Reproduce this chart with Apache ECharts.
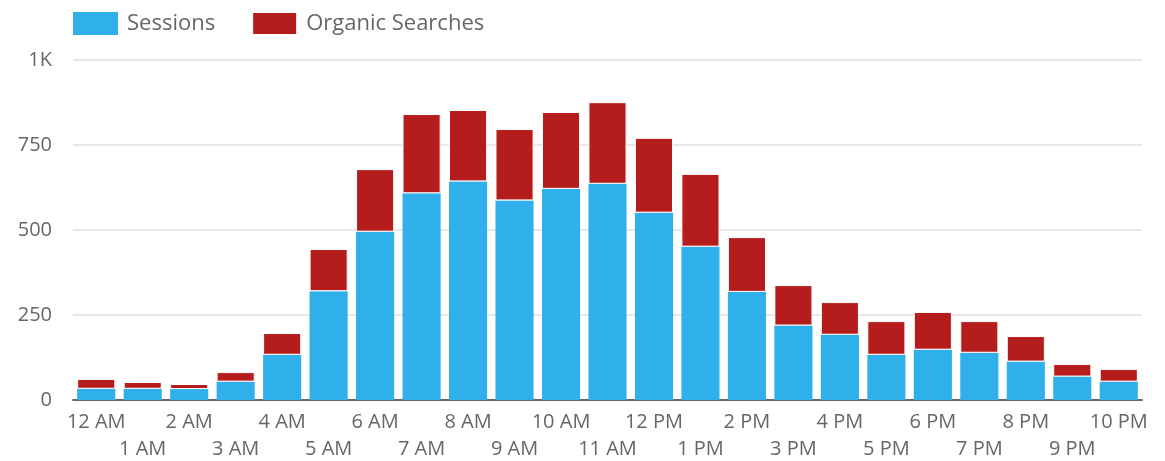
<!DOCTYPE html>
<html>
<head>
<meta charset="utf-8">
<script src="https://cdn.jsdelivr.net/npm/echarts@6/dist/echarts.min.js"></script>
<style>
html,body{margin:0;padding:0;background:#fff;}
#chart{width:1165px;height:461px;}
</style>
</head>
<body>
<div id="chart"></div>
<script>
const categories = ['12 AM','1 AM','2 AM','3 AM','4 AM','5 AM','6 AM','7 AM','8 AM','9 AM','10 AM','11 AM','12 PM','1 PM','2 PM','3 PM','4 PM','5 PM','6 PM','7 PM','8 PM','9 PM','10 PM'];
const sessions = [33,33,32,54,133,320,495,608,643,587,621,636,551,451,318,219,192,133,148,139,113,69,54];
const organicSearches = [29,20,15,28,64,124,184,233,210,210,226,240,220,214,161,119,96,99,111,93,75,37,37];
const yTicks = [0,250,500,750,1000];
const yTickLabels = ['0','250','500','750','1K'];

const chart = echarts.init(document.getElementById('chart'));
const font = 'Open Sans';
chart.setOption({
  animation: false,
  textStyle: {fontFamily: font},
  legend: {
    left: 68, top: 6,
    itemWidth: 45, itemHeight: 23, itemGap: 36,
    icon: 'rect',
    textStyle: {fontSize: 22, color: '#666', fontFamily: font, padding: [0,0,0,4]},
    data: ['Sessions','Organic Searches']
  },
  grid: {left: 73, right: 23, top: 60, bottom: 61, containLabel: false, outerBoundsMode: 'none'},
  xAxis: {
    type: 'category',
    data: categories,
    axisTick: {show: false},
    axisLine: {lineStyle: {color: '#666', width: 2}},
    axisLabel: {
      interval: 0, hideOverlap: false,
      fontSize: 20, color: '#666', fontFamily: font,
      lineHeight: 27, margin: 9,
      formatter: function (v, i) { return i % 2 === 1 ? '\n' + v : v; }
    }
  },
  yAxis: {
    type: 'value', min: 0, max: 1000, interval: 250,
    axisLine: {show: false}, axisTick: {show: false},
    splitLine: {lineStyle: {color: '#e8e8e8', width: 2}},
    axisLabel: {
      fontSize: 20, color: '#666', fontFamily: font, margin: 21,
      formatter: function (v) { const k = yTicks.indexOf(v); return k >= 0 ? yTickLabels[k] : v; }
    }
  },
  series: [
    {
      name: 'Sessions', type: 'bar', stack: 'total', barWidth: '82%',
      itemStyle: {color: '#2fb0ea'},
      data: sessions
    },
    {
      name: 'Organic Searches', type: 'bar', stack: 'total', barWidth: '82%',
      itemStyle: {color: '#b51d1d', borderColor: '#fff', borderWidth: 1},
      data: organicSearches
    }
  ]
});
</script>
</body>
</html>
